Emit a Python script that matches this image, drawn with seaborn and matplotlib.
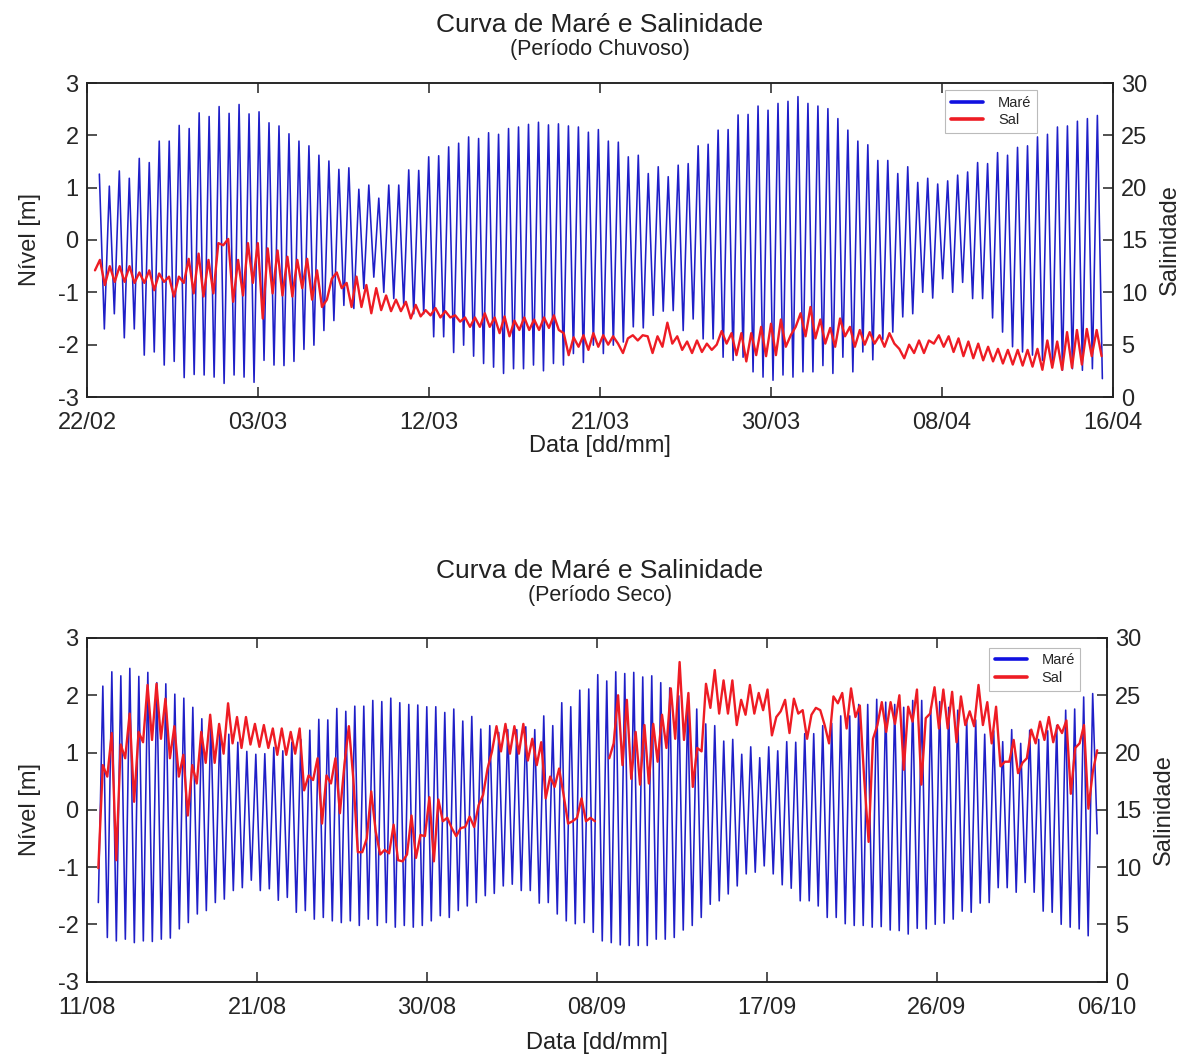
import numpy as np
import pandas as pd
import matplotlib
matplotlib.use("Agg")
import matplotlib.pyplot as plt
from matplotlib.lines import Line2D
import seaborn as sns

# ---------------- axis labels / ticks ----------------
tick_days = [0, 9, 18, 27, 36, 45, 54]
top_ticklabels = ["22/02", "03/03", "12/03", "21/03", "30/03", "08/04", "16/04"]
bot_ticklabels = ["11/08", "21/08", "30/08", "08/09", "17/09", "26/09", "06/10"]

# ---------------- Período Chuvoso: tide (m), successive high / low waters ----------------
top_highs = [1.26, 1.03, 1.32, 1.18, 1.56, 1.48, 1.89, 1.89, 2.19, 2.13, 2.43, 2.36, 2.55, 2.42, 2.59, 2.41,
             2.45, 2.24, 2.18, 2.03, 1.89, 1.80, 1.62, 1.51, 1.35, 1.38,
             0.97, 1.05, 0.80, 1.05, 1.05, 1.34, 1.33, 1.59, 1.61, 1.78, 1.85, 1.97, 1.94, 2.05, 2.02,
             2.13, 2.16, 2.21, 2.25, 2.20, 2.22, 2.18, 2.16, 2.06, 2.11,
             1.89, 1.87, 1.59, 1.62, 1.27, 1.40, 1.21, 1.43, 1.46, 1.80, 1.83, 2.10, 2.11, 2.39, 2.40,
             2.56, 2.48, 2.61, 2.65, 2.74, 2.61, 2.56, 2.51, 2.32, 2.10,
             1.89, 1.82, 1.52, 1.52, 1.27, 1.40, 1.10, 1.18, 1.07, 1.13, 1.24, 1.30, 1.48, 1.46, 1.67,
             1.62, 1.77, 1.80, 1.97, 2.02, 2.16, 2.18, 2.27, 2.32, 2.38]
top_lows = [-1.70, -1.41, -1.87, -1.70, -2.20, -2.14, -2.39, -2.32, -2.63, -2.57, -2.58, -2.62, -2.74, -2.58,
            -2.62, -2.72, -2.30, -2.39, -2.40, -2.32, -2.09, -2.01, -1.73, -1.54, -1.25,
            -1.31, -0.93, -0.71, -1.00, -1.12, -1.25, -1.41, -1.41, -1.85, -1.85, -2.15, -2.01, -2.22, -2.36,
            -2.43, -2.55, -2.46, -2.46, -2.39, -2.50, -2.36, -2.39, -2.17, -2.34, -2.01,
            -2.17, -2.01, -1.95, -1.66, -1.68, -1.44, -1.36, -1.35, -1.73, -1.51, -1.89, -1.89, -2.24, -2.30,
            -2.24, -2.52, -2.62, -2.68, -2.58, -2.62, -2.52, -2.52, -2.40, -2.55, -2.24,
            -2.52, -2.14, -2.29, -1.90, -1.76, -1.47, -1.41, -1.00, -1.11, -0.74, -1.00, -0.81, -1.12, -1.12,
            -1.49, -1.76, -2.04, -2.14, -2.20, -2.30, -2.36, -2.49, -2.46, -2.49, -2.46, -2.65]
top_tide_span = (0.65, 53.44)   # days after 22/02

# ---------------- Período Chuvoso: salinity ----------------
top_sal = [12.1, 13.1, 10.7, 12.5, 11.0, 12.5, 11.0, 12.5, 10.9, 11.9, 10.9, 12.1, 10.2, 11.8, 11.0, 11.5,
           9.6, 11.5, 10.9, 13.2, 9.9, 13.7, 9.6, 13.1, 9.9, 14.7, 14.5, 15.1, 9.1, 13.1, 9.7, 14.7, 10.9,
           14.7, 7.5, 14.2, 9.9, 14.0, 9.7, 13.4, 9.6, 13.1, 10.4, 13.2, 9.3, 12.1, 8.6, 9.3, 11.3, 11.9,
           10.4, 10.9,
           8.6, 11.5, 8.6, 10.7, 8.0, 10.4, 8.3, 9.7, 8.2, 9.3, 8.2, 9.1, 7.5, 8.8, 7.7, 8.3, 7.8, 8.5, 7.6,
           8.2, 7.6, 7.8, 7.2, 7.6, 6.7, 7.6, 6.7, 8.0, 6.7, 7.6, 6.1, 7.7, 5.8, 7.3, 6.4, 7.6, 6.4, 7.4,
           6.4, 7.6, 6.6, 7.8, 6.4, 6.1, 4.0, 5.7, 4.8, 5.9, 4.5, 6.1,
           4.8, 5.9, 5.0, 5.8, 5.1, 4.2, 5.6, 5.9, 5.4, 5.9, 5.8, 4.2, 5.8, 4.8, 7.1, 5.1, 5.8, 4.5, 5.3,
           4.2, 5.4, 4.3, 5.1, 4.5, 5.0, 6.3, 5.1, 6.1, 4.0, 6.1, 3.4, 6.1, 4.0, 6.7, 3.9, 7.0, 4.0, 7.4,
           4.8, 5.9, 6.7, 8.0, 5.8, 8.6, 5.6, 7.4, 5.1, 6.6, 4.8, 7.5, 5.8, 6.7,
           4.8, 6.4, 5.0, 6.2, 5.1, 5.9, 4.8, 6.1, 5.1, 4.6, 3.7, 5.0, 4.2, 5.4, 4.2, 5.4, 5.1, 5.9, 4.8,
           5.8, 4.3, 5.6, 3.9, 5.3, 3.7, 5.1, 3.5, 4.8, 3.4, 4.6, 3.2, 4.5, 3.1, 4.5, 3.0, 4.5, 2.9, 4.6,
           2.6, 5.4, 2.8, 5.3, 2.6, 6.2, 2.8, 6.4, 3.1, 6.5, 3.9, 6.4, 3.9]
top_sal_span = (0.42, 53.40)

# ---------------- Período Seco: tide ----------------
bot_tide_first = -1.62
bot_tide_last = -0.42
bot_highs = [2.16, 2.41, 2.34, 2.47, 2.33, 2.40, 2.22, 2.20, 2.02, 1.95, 1.79, 1.59, 1.55, 1.38, 1.32, 1.18,
             1.02, 0.97, 0.98, 1.09, 1.03, 1.18, 1.23, 1.39, 1.58, 1.57, 1.77, 1.72,
             1.81, 1.81, 1.91, 1.89, 1.95, 1.87, 1.84, 1.83, 1.80, 1.80, 1.70, 1.76, 1.55, 1.63, 1.41, 1.47,
             1.35, 1.40, 1.40, 1.45, 1.40, 1.64, 1.47, 1.87, 1.80, 2.09, 2.11, 2.36,
             2.25, 2.41, 2.38, 2.40, 2.32, 2.34, 2.22, 2.13, 1.99, 1.84, 1.76, 1.50, 1.47, 1.20, 1.23, 0.97,
             1.10, 0.91, 1.10, 1.03, 1.19, 1.18, 1.33, 1.33, 1.47, 1.51, 1.64,
             1.64, 1.84, 1.84, 1.93, 1.88, 1.84, 1.79, 1.91, 1.91, 1.79, 1.89, 1.79, 1.74, 1.58, 1.57, 1.32,
             1.38, 1.19, 1.40, 1.16, 1.39, 1.23, 1.38, 1.47, 1.74, 1.76, 1.97, 2.03]
bot_lows = [-2.23, -2.29, -2.26, -2.32, -2.29, -2.30, -2.26, -2.24, -2.08, -1.97, -1.82, -1.76, -1.62, -1.56,
            -1.41, -1.36, -1.23, -1.41, -1.38, -1.58, -1.53, -1.79, -1.76, -1.91, -1.88, -1.94, -1.97,
            -1.94, -2.02, -1.91, -2.02, -1.97, -2.05, -2.02, -2.05, -2.02, -1.94, -1.85, -1.88, -1.76, -1.68,
            -1.62, -1.50, -1.46, -1.33, -1.30, -1.41, -1.41, -1.63, -1.62, -1.82, -1.94, -1.99, -1.97, -2.14,
            -2.29, -2.32, -2.36, -2.37, -2.37, -2.37, -2.26, -2.26, -2.23, -2.10, -2.02, -1.88, -1.65, -1.59,
            -1.47, -1.33, -1.12, -1.09, -0.98, -1.12, -1.31, -1.37, -1.59, -1.59, -1.68, -1.88, -1.88, -1.99,
            -2.02, -2.02, -2.05, -2.04, -2.10, -2.11, -2.17, -2.07, -2.08, -2.00, -1.98, -1.91, -1.77, -1.79,
            -1.63, -1.62, -1.36, -1.36, -1.44, -1.27, -1.44, -1.77, -1.79, -2.00, -2.05, -2.08, -2.20]
bot_tide_span = (0.60, 53.48)   # days after 11/08

# ---------------- Período Seco: salinity (two records, gap near 08/09) ----------------
bot_sal_a = [9.9, 18.9, 17.9, 21.7, 10.6, 20.7, 19.5, 23.4, 15.7, 21.8, 20.9, 25.9, 21.1, 26.0, 21.2, 24.7,
             19.5, 22.3, 17.9, 19.8, 14.5, 18.9, 17.3, 21.8, 19.1, 23.3, 19.1, 22.5, 19.9, 24.3, 20.8, 23.1,
             20.4, 23.1, 20.7, 22.5, 20.5, 22.4, 20.4, 22.1, 19.8, 22.1, 19.8, 21.8, 19.9, 22.1, 16.7, 18.0,
             17.6, 19.5, 13.8, 18.0, 17.3, 19.5,
             14.7, 18.9, 22.3, 17.7, 11.3, 11.3, 12.5, 16.6, 13.1, 11.1, 11.5, 11.2, 13.7, 10.6, 10.5, 11.1,
             14.5, 10.8, 12.8, 12.7, 16.1, 10.5, 15.9, 14.0, 14.3, 13.4, 12.7, 13.4, 13.5, 14.4, 13.5, 15.4,
             16.3, 18.6, 20.1, 22.3, 20.1, 22.5, 19.9, 22.3, 19.9, 22.5, 19.3, 21.2, 18.9, 20.9, 16.0, 17.9,
             17.0, 18.6, 16.3, 13.8, 14.0, 14.3, 16.0, 14.0, 14.3, 14.0]
bot_sal_a_span = (0.60, 26.89)
bot_sal_b = [19.5, 20.8, 25.0, 18.9, 24.6, 17.7, 21.8, 17.2, 22.4, 17.3, 22.5, 19.2, 23.3, 20.4, 25.6, 21.2,
             27.9, 21.1, 25.2, 17.0, 20.4, 20.1, 26.0, 23.9, 27.2, 23.4, 26.3, 23.4, 26.3, 22.4, 24.6, 23.3,
             25.9, 23.4, 25.2, 23.7, 25.5, 21.5, 23.1, 23.6, 24.6, 21.7, 24.7, 23.4, 23.7, 21.2, 23.3, 23.9,
             23.7, 22.4, 20.8, 24.9, 24.3, 25.2,
             22.1, 25.6, 23.1, 24.1, 17.7, 12.2, 21.2, 22.4, 24.4, 21.8, 24.4, 22.5, 25.0, 18.5, 24.0, 22.7,
             25.5, 17.2, 23.0, 23.4, 25.7, 22.1, 25.5, 22.1, 25.3, 20.9, 24.9, 22.4, 23.6, 22.3, 25.9, 22.4,
             24.4, 20.8, 24.0, 18.8, 19.2, 19.2, 21.1, 18.2, 19.1, 19.5, 22.0, 20.8, 22.7, 21.1, 23.1, 20.9,
             22.4, 21.7, 22.8, 16.4, 20.4, 20.8, 22.4, 15.1, 18.3, 20.2]
bot_sal_b_span = (27.65, 53.48)

# ---------------- assemble series ----------------
def interleave(a, b):
    out = []
    for i in range(max(len(a), len(b))):
        if i < len(a):
            out.append(a[i])
        if i < len(b):
            out.append(b[i])
    return out

def frame(values, span):
    return pd.DataFrame({"dia": np.linspace(span[0], span[1], len(values)), "v": values})

top_tide = frame(interleave(top_highs, top_lows), top_tide_span)
top_s = frame(top_sal, top_sal_span)
bot_tide = frame([bot_tide_first] + interleave(bot_highs, bot_lows) + [bot_tide_last], bot_tide_span)
bot_sa = frame(bot_sal_a, bot_sal_a_span)
bot_sb = frame(bot_sal_b, bot_sal_b_span)

# ---------------- style ----------------
sns.set_style("white")
plt.rcParams["font.family"] = ["Liberation Sans", "DejaVu Sans"]
plt.rcParams["axes.edgecolor"] = "#222222"
plt.rcParams["axes.linewidth"] = 1.1
plt.rcParams["axes.unicode_minus"] = False

BLUE = "#1f1fc8"
RED = "#ee1c24"
W, H = 1184, 1064

fig = plt.figure(figsize=(W / 100, H / 100), dpi=100)

def make_panel(rect, tide_df, sal_dfs, ticklabels, title, subtitle, title_y, sub_y,
               xlabel_y, legend_anchor):
    ax = fig.add_axes(rect)
    sns.lineplot(data=tide_df, x="dia", y="v", ax=ax, color=BLUE, lw=1.15, estimator=None)
    ax.set_xlim(0, 54)
    ax.set_ylim(-3, 3)
    ax.set_yticks([-3, -2, -1, 0, 1, 2, 3])
    ax.set_xticks(tick_days)
    ax.set_xticklabels(ticklabels)
    ax.set_xlabel("")
    ax.set_ylabel("Nível [m]", fontsize=17, labelpad=12)
    ax.tick_params(axis="x", direction="in", top=True, bottom=True, length=7, width=1.1,
                   labelsize=17, pad=11, color="#222222")
    ax.tick_params(axis="y", direction="in", left=True, right=False, length=7, width=1.1,
                   labelsize=17, pad=6, color="#222222")

    ax2 = ax.twinx()
    for sdf in sal_dfs:
        sns.lineplot(data=sdf, x="dia", y="v", ax=ax2, color=RED, lw=1.7, estimator=None)
    ax2.set_ylim(0, 30)
    ax2.set_yticks([0, 5, 10, 15, 20, 25, 30])
    ax2.set_ylabel("Salinidade", fontsize=17, rotation=90, labelpad=8)
    ax2.tick_params(axis="y", direction="in", right=True, length=7, width=1.1,
                    labelsize=17, pad=6, color="#222222")
    for a in (ax, ax2):
        for s in a.spines.values():
            s.set_visible(True)
            s.set_color("#222222")
            s.set_linewidth(1.1)

    handles = [Line2D([], [], color="#1010e0", lw=2.6), Line2D([], [], color=RED, lw=2.6)]
    leg = ax2.legend(handles, ["Maré", "Sal"], loc="upper right", bbox_to_anchor=legend_anchor,
                     fontsize=10.5, frameon=True, fancybox=False, edgecolor="#aaaaaa",
                     handlelength=2.2, borderpad=0.4, labelspacing=0.25, handletextpad=1.0,
                     borderaxespad=0.0)
    leg.get_frame().set_linewidth(0.8)

    cx = (rect[0] + rect[2] / 2)
    fig.text(600 / W, 1 - title_y / H, title, ha="center", va="center", fontsize=19, color="#222222")
    fig.text(600 / W, 1 - sub_y / H, subtitle, ha="center", va="center", fontsize=15.5, color="#222222")
    fig.text(cx, 1 - xlabel_y / H, "Data [dd/mm]", ha="center", va="center", fontsize=17, color="#222222")
    return ax, ax2

top_rect = [87 / W, 1 - 397 / H, (1113 - 87) / W, (397 - 83) / H]
bot_rect = [87 / W, 1 - 981.6 / H, (1107 - 87) / W, (981.6 - 638) / H]

make_panel(top_rect, top_tide, [top_s], top_ticklabels,
           "Curva de Maré e Salinidade", "(Período Chuvoso)", 25, 49, 446, (0.926, 0.978))
make_panel(bot_rect, bot_tide, [bot_sa, bot_sb], bot_ticklabels,
           "Curva de Maré e Salinidade", "(Período Seco)", 571, 596, 1043, (0.974, 0.972))

fig.savefig("out.png", dpi=100)
